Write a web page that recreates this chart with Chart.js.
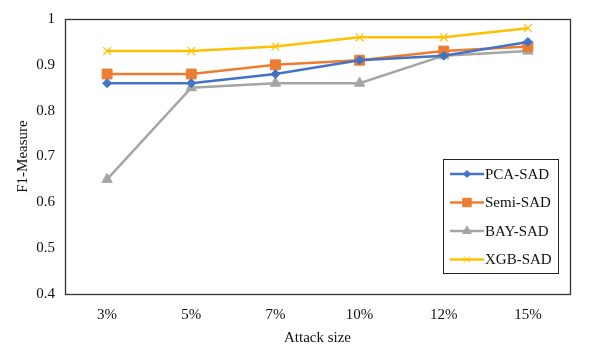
<!DOCTYPE html>
<html>
<head>
<meta charset="utf-8">
<script src="https://cdn.jsdelivr.net/npm/chart.js@4"></script>
<style>
  html, body { margin: 0; padding: 0; background: #fff; }
  #wrap { width: 606px; height: 347px; }
</style>
</head>
<body>
<div id="wrap"><canvas id="chart" width="606" height="347"></canvas></div>
<script>
const categories = ["3%", "5%", "7%", "10%", "12%", "15%"];
const pcaSad = [0.86, 0.86, 0.88, 0.91, 0.92, 0.95];
const semiSad = [0.88, 0.88, 0.90, 0.91, 0.93, 0.94];
const baySad = [0.65, 0.85, 0.86, 0.86, 0.92, 0.93];
const xgbSad = [0.93, 0.93, 0.94, 0.96, 0.96, 0.98];
const yTicks = [0.4, 0.5, 0.6, 0.7, 0.8, 0.9, 1];

const serif = "'Liberation Serif', 'DejaVu Serif', serif";

// frame around the plot + legend box inside the plot
const framePlugin = {
    id: "frame",
    afterDraw(chart) {
        const ctx = chart.ctx;
        const a = chart.chartArea;
        ctx.save();
        ctx.strokeStyle = "#333";
        ctx.lineWidth = 1.3;
        ctx.strokeRect(Math.round(a.left) + 0.5, Math.round(a.top) + 0.5,
            Math.round(a.right - a.left), Math.round(a.bottom - a.top));

        const bx = 443, by = 159, bw = 115, bh = 114;
        ctx.fillStyle = "#fff";
        ctx.fillRect(bx, by, bw, bh);
        ctx.strokeStyle = "#222";
        ctx.lineWidth = 1;
        ctx.strokeRect(bx + 0.5, by + 0.5, bw, bh);

        ctx.font = "15px " + serif;
        ctx.textBaseline = "middle";
        chart.data.datasets.forEach((ds, i) => {
            const y = by + 15 + i * 28.5;
            ctx.strokeStyle = ds.borderColor;
            ctx.lineWidth = 2.5;
            ctx.beginPath();
            ctx.moveTo(450, y);
            ctx.lineTo(484, y);
            ctx.stroke();
            ctx.fillStyle = ds.borderColor;
            ctx.lineWidth = 1;
            Chart.helpers.drawPoint(ctx, {
                pointStyle: ds.pointStyle,
                radius: ds.pointRadius - 1,
                borderWidth: 1
            }, 467, y);
            ctx.fillStyle = "#111";
            ctx.fillText(ds.label, 485, y + 1);
        });
        ctx.restore();
    }
};

function series(label, data, color, style, radius) {
    return {
        label: label,
        data: data,
        borderColor: color,
        backgroundColor: color,
        borderWidth: 2.5,
        pointStyle: style,
        pointRadius: radius,
        pointHoverRadius: radius,
        pointBorderColor: color,
        pointBackgroundColor: color,
        pointBorderWidth: style === "crossRot" ? 1.2 : 1,
        tension: 0
    };
}

new Chart(document.getElementById("chart"), {
    type: "line",
    data: {
        labels: categories,
        datasets: [
            series("PCA-SAD", pcaSad, "#4472C4", "rectRot", 4.5),
            series("Semi-SAD", semiSad, "#ED7D31", "rect", 7),
            series("BAY-SAD", baySad, "#A5A5A5", "triangle", 6),
            series("XGB-SAD", xgbSad, "#FFC000", "crossRot", 5.5)
        ]
    },
    options: {
        responsive: false,
        animation: false,
        devicePixelRatio: 1,
        layout: { padding: { left: 0, top: 19, right: 36, bottom: 0 } },
        plugins: {
            legend: { display: false },
            tooltip: { enabled: false }
        },
        scales: {
            x: {
                offset: true,
                grid: { display: false, offset: true },
                border: { display: false },
                ticks: {
                    color: "#111",
                    font: { family: serif, size: 15 },
                    padding: 4
                },
                title: {
                    display: true,
                    text: "Attack size",
                    color: "#111",
                    font: { family: serif, size: 15 },
                    padding: { top: 4, bottom: 0 }
                },
                afterFit(s) { s.height = 53; }
            },
            y: {
                min: 0.4,
                max: 1,
                afterBuildTicks(s) { s.ticks = yTicks.map(v => ({ value: v })); },
                grid: { display: false },
                border: { display: false },
                ticks: {
                    color: "#111",
                    font: { family: serif, size: 15 },
                    padding: 2,
                    callback: v => String(Math.round(v * 10) / 10)
                },
                title: {
                    display: true,
                    text: "F1-Measure",
                    color: "#111",
                    font: { family: serif, size: 15 },
                    padding: { top: 14, bottom: 4 }
                },
                afterFit(s) { s.width = 65; }
            }
        }
    },
    plugins: [framePlugin]
});
</script>
</body>
</html>
